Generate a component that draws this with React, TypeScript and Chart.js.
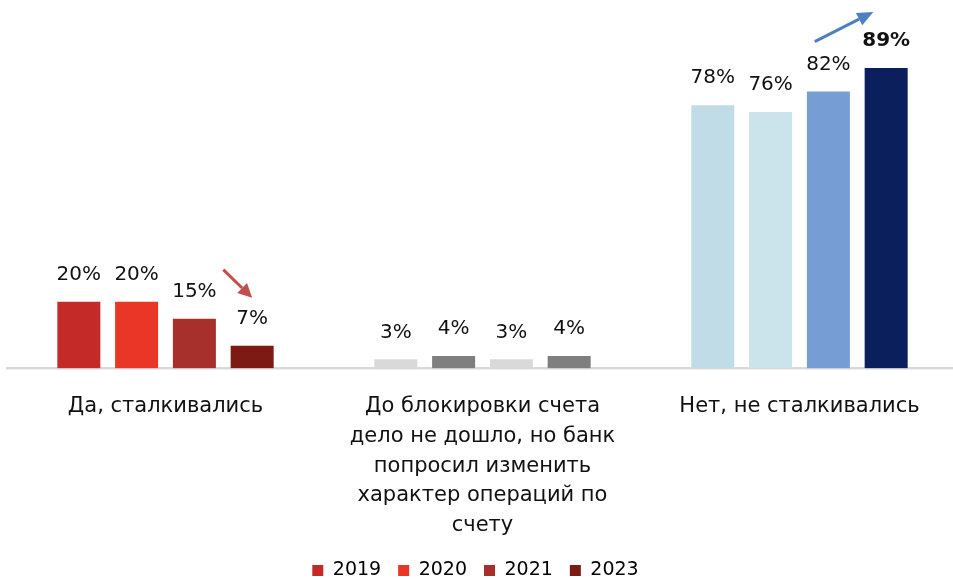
import { useEffect, useRef } from "react";
import { Chart, registerables } from "chart.js";
Chart.register(...registerables);

const categories = [
  ["Да, сталкивались"],
  ["До блокировки счета", "дело не дошло, но банк", "попросил изменить", "характер операций по", "счету"],
  ["Нет, не сталкивались"],
];
const years = ["2019", "2020", "2021", "2023"];
const values2019 = [20, 3, 78];
const values2020 = [20, 4, 76];
const values2021 = [15, 3, 82];
const values2023 = [7, 4, 89];
const colors2019 = ["#C42A27", "#D9D9D9", "#C0DCE6"];
const colors2020 = ["#EA3626", "#7F7F7F", "#CBE3EA"];
const colors2021 = ["#A8302C", "#D9D9D9", "#769DD4"];
const colors2023 = ["#7E1A14", "#7F7F7F", "#0A1F5B"];
const legendColors = ["#C42A27", "#EA3626", "#A8302C", "#7E1A14"];
const highlight = { dataset: 3, index: 2 };

const FONT = '"DejaVu Sans", sans-serif';

function drawArrow(ctx: CanvasRenderingContext2D, x1: number, y1: number, x2: number, y2: number, color: string, head: number, hw: number) {
  const ang = Math.atan2(y2 - y1, x2 - x1);
  const bx = x2 - head * Math.cos(ang);
  const by = y2 - head * Math.sin(ang);
  ctx.save();
  ctx.strokeStyle = color;
  ctx.fillStyle = color;
  ctx.lineWidth = 3;
  ctx.beginPath();
  ctx.moveTo(x1, y1);
  ctx.lineTo(bx, by);
  ctx.stroke();
  ctx.beginPath();
  ctx.moveTo(x2, y2);
  ctx.lineTo(bx + hw * Math.sin(ang), by - hw * Math.cos(ang));
  ctx.lineTo(bx - hw * Math.sin(ang), by + hw * Math.cos(ang));
  ctx.closePath();
  ctx.fill();
  ctx.restore();
}

const labelPlugin = {
  id: "barLabels",
  afterDatasetsDraw(chart: any) {
    const ctx = chart.ctx;
    ctx.save();
    chart.data.datasets.forEach((ds: any, di: number) => {
      const meta = chart.getDatasetMeta(di);
      meta.data.forEach((el: any, i: number) => {
        const bold = di === highlight.dataset && i === highlight.index;
        ctx.font = `${bold ? "bold " : ""}20px ${FONT}`;
        ctx.fillStyle = "#111111";
        ctx.textAlign = "center";
        ctx.textBaseline = "middle";
        ctx.fillText(`${ds.data[i]}%`, el.x, el.y - 26);
      });
    });
    // trend arrows
    const m2 = chart.getDatasetMeta(2).data;
    const m3 = chart.getDatasetMeta(3).data;
    drawArrow(ctx, (m2[0].x + m3[0].x) / 2, m2[0].y - 48, m3[0].x, m3[0].y - 47, "#C0504D", 14, 7);
    drawArrow(ctx, m2[2].x - 13.6, m2[2].y - 49, m3[2].x - 12.8, m3[2].y - 55, "#4F7FC0", 16, 7);
    ctx.restore();
  },
  beforeDraw(chart: any) {
    const lg = chart.legend;
    if (lg && !lg._shifted) {
      lg.left -= 7;
      lg.right -= 7;
      lg._shifted = true;
    }
  },
};

export default function App() {
  const ref = useRef<HTMLCanvasElement>(null);
  useEffect(() => {
    if (!ref.current) return;
    const series = [values2019, values2020, values2021, values2023];
    const cols = [colors2019, colors2020, colors2021, colors2023];
    const chart = new Chart(ref.current, {
      type: "bar",
      data: {
        labels: categories,
        datasets: years.map((y, i) => ({
          label: y,
          data: series[i],
          backgroundColor: cols[i],
          borderColor: "rgba(255,255,255,0.35)",
          borderWidth: 1,
          categoryPercentage: 0.729,
          barPercentage: 0.779,
        })),
      },
      options: {
        responsive: false,
        animation: false,
        layout: { padding: { left: 7, right: 2, top: 29.6, bottom: 0 } },
        scales: {
          y: { display: false, min: 0, max: 100 },
          x: {
            z: 1,
            grid: { display: false },
            border: { display: true, color: "#D9D9D9", width: 2.5 },
            ticks: {
              padding: 15,
              color: "#111111",
              font: { family: FONT, size: 21, lineHeight: 1.42 },
              maxRotation: 0,
              autoSkip: false,
            },
            afterFit: (scale: any) => {
              scale.height = 175.5;
            },
          },
        },
        plugins: {
          tooltip: { enabled: false },
          legend: {
            position: "bottom",
            labels: {
              boxWidth: 11,
              boxHeight: 11,
              padding: 17,
              color: "#111111",
              font: { family: FONT, size: 19 },
              generateLabels: () =>
                years.map((y, i) => ({
                  text: y,
                  fillStyle: legendColors[i],
                  strokeStyle: legendColors[i],
                  lineWidth: 0,
                  hidden: false,
                  datasetIndex: i,
                })),
            },
          },
        },
      },
      plugins: [labelPlugin],
    });
    return () => chart.destroy();
  }, []);
  return (
    <div style={{ position: "absolute", left: 0, top: 0, width: 953, height: 579, overflow: "hidden", background: "#fff" }}>
      <canvas ref={ref} width={960} height={590} style={{ width: 960, height: 590, display: "block" }} />
    </div>
  );
}
